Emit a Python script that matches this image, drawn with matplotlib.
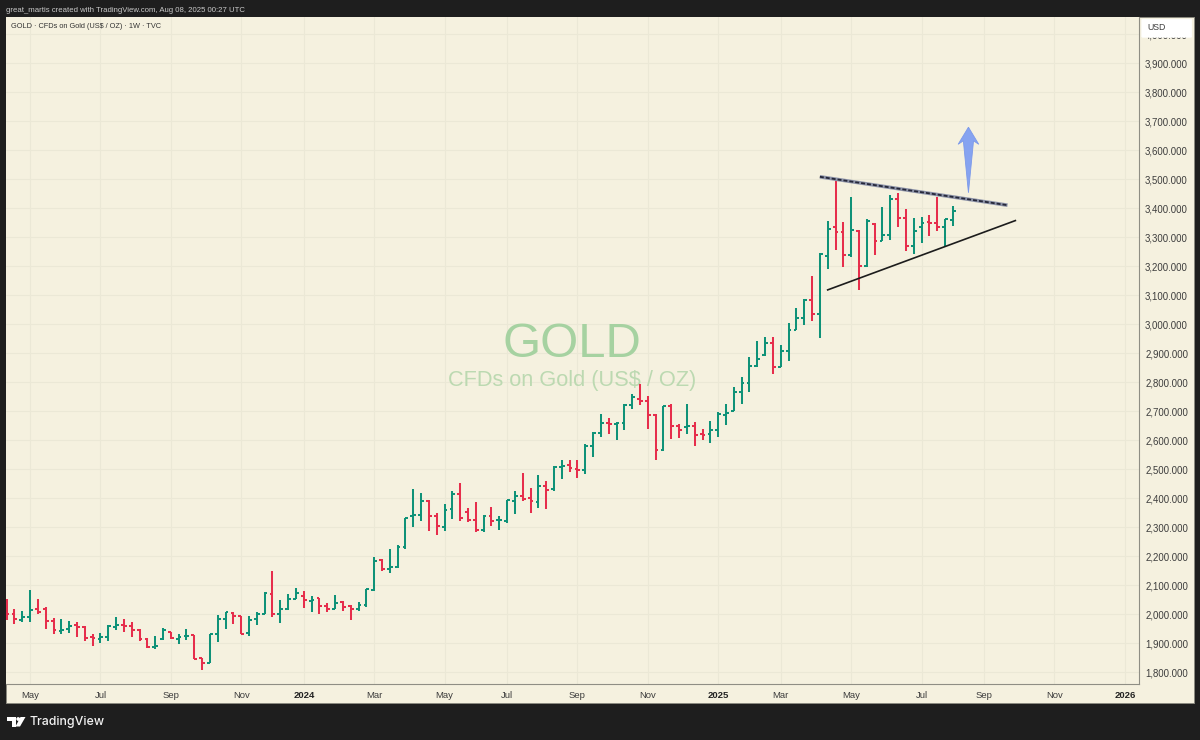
import matplotlib
matplotlib.use("Agg")
import matplotlib.pyplot as plt
from matplotlib.patches import Rectangle, Polygon, Circle, FancyBboxPatch

W, H = 1200, 740

# weekly bars
opens = [2040, 2003, 1980, 1992, 2019, 2017, 1978, 1942, 1948, 1963, 1956, 1923, 1914, 1923, 1956, 1963, 1961, 1946, 1916, 1888,
         1914, 1939, 1916, 1925, 1928, 1849, 1833, 1933, 1983, 2006, 1994, 1937, 1983, 2003, 2072, 2000, 2019, 2054, 2063, 2046,
         2055, 2029, 2019, 2042, 2029, 2017, 2031, 2084, 2186, 2155, 2163, 2231, 2339, 2344, 2391, 2341, 2302, 2362, 2414, 2354,
         2327, 2290, 2339, 2324, 2321, 2391, 2410, 2402, 2388, 2443, 2431, 2510, 2514, 2500, 2498, 2580, 2625, 2660, 2656, 2660,
         2723, 2743, 2737, 2687, 2566, 2720, 2650, 2645, 2648, 2622, 2621, 2636, 2689, 2703, 2768, 2797, 2857, 2896, 2935, 2854,
         2910, 2981, 3021, 3084, 3036, 3237, 3335, 3318, 3240, 3323, 3202, 3346, 3288, 3309, 3434, 3366, 3272, 3335, 3353, 3349,
         3335, 3360]
highs = [2052, 2017, 2011, 2084, 2052, 2024, 1987, 1985, 1976, 1973, 1959, 1934, 1937, 1965, 1990, 1983, 1975, 1948, 1919, 1925,
         1954, 1941, 1931, 1948, 1929, 1851, 1934, 1998, 2010, 2009, 1996, 1995, 2008, 2077, 2149, 2050, 2072, 2091, 2080, 2063,
         2057, 2040, 2068, 2046, 2034, 2044, 2088, 2198, 2190, 2225, 2238, 2333, 2433, 2419, 2393, 2348, 2381, 2424, 2453, 2366,
         2389, 2344, 2371, 2341, 2395, 2425, 2486, 2436, 2481, 2460, 2513, 2534, 2534, 2534, 2588, 2630, 2690, 2676, 2664, 2725,
         2761, 2796, 2752, 2691, 2720, 2724, 2657, 2727, 2665, 2638, 2666, 2698, 2725, 2784, 2817, 2887, 2943, 2956, 2957, 2930,
         3004, 3057, 3088, 3168, 3245, 3358, 3500, 3353, 3438, 3326, 3365, 3350, 3404, 3446, 3452, 3399, 3366, 3369, 3377, 3441,
         3364, 3410]
lows = [1980, 1968, 1973, 1975, 2000, 1951, 1934, 1931, 1936, 1923, 1908, 1891, 1900, 1910, 1945, 1939, 1923, 1908, 1884, 1880,
        1911, 1914, 1899, 1911, 1845, 1808, 1831, 1906, 1951, 1967, 1931, 1926, 1963, 2000, 1992, 1969, 2015, 2052, 2023, 2010,
        2000, 2007, 2017, 2013, 1982, 2013, 2026, 2080, 2148, 2144, 2161, 2225, 2300, 2321, 2288, 2274, 2288, 2329, 2322, 2318,
        2283, 2284, 2304, 2291, 2315, 2347, 2392, 2350, 2366, 2362, 2424, 2468, 2492, 2469, 2484, 2544, 2613, 2622, 2601, 2637,
        2707, 2723, 2641, 2534, 2564, 2604, 2609, 2622, 2579, 2603, 2591, 2611, 2652, 2702, 2727, 2768, 2852, 2890, 2828, 2852,
        2875, 2980, 2999, 3013, 2952, 3190, 3257, 3199, 3234, 3117, 3199, 3241, 3286, 3290, 3337, 3252, 3242, 3279, 3306, 3322,
        3267, 3341]
closes = [2003, 1983, 1992, 2015, 2008, 1978, 1946, 1946, 1960, 1957, 1919, 1919, 1923, 1960, 1962, 1960, 1946, 1914, 1888, 1891,
          1946, 1919, 1923, 1925, 1847, 1833, 1933, 1983, 2008, 1994, 1934, 1980, 2003, 2075, 2000, 2019, 2054, 2075, 2048, 2049,
          2029, 2019, 2040, 2026, 2019, 2034, 2086, 2184, 2155, 2163, 2233, 2331, 2344, 2391, 2339, 2304, 2359, 2416, 2333, 2327,
          2290, 2339, 2321, 2327, 2393, 2410, 2399, 2391, 2443, 2428, 2510, 2512, 2506, 2498, 2580, 2625, 2660, 2656, 2660, 2723,
          2749, 2737, 2687, 2566, 2717, 2650, 2636, 2648, 2620, 2620, 2636, 2691, 2696, 2768, 2797, 2857, 2880, 2935, 2854, 2909,
          2981, 3021, 3084, 3036, 3242, 3328, 3318, 3240, 3326, 3202, 3358, 3287, 3309, 3433, 3366, 3272, 3322, 3349, 3349, 3335,
          3362, 3392]

price_ticks = list(range(1800, 4100, 100))
date_ticks = [3, 12, 21, 30, 38, 47, 56, 64, 73, 82, 91, 99, 108, 117, 125, 134, 143]
date_labels = ["May", "Jul", "Sep", "Nov", "2024", "Mar", "May", "Jul", "Sep", "Nov", "2025", "Mar", "May", "Jul", "Sep", "Nov", "2026"]

# drawings on the chart, in bar number / price
upper_x, upper_y = [104, 128], [3509, 3411]
lower_x, lower_y = [105, 129], [3119, 3358]
arrow_x = [123.0, 124.32, 123.65, 123.0, 122.35, 121.68]
arrow_y = [3680, 3621, 3633, 3454, 3633, 3621]

DARK = "#1e1e1e"
CREAM = "#f5f1df"
GREEN = "#0f9278"
RED = "#e62e4c"
GRID = "#ebe8d6"
TEXT = "#3c3c3c"
plt.rcParams["font.family"] = ["Liberation Sans", "DejaVu Sans"]


def fx(px):
    return px / W


def fy(py):
    return 1 - py / H


fig = plt.figure(figsize=(12, 7.4), dpi=100, facecolor=DARK)

# whole panel with time and price scales
fig.patches.append(Rectangle((fx(6), fy(703)), fx(1188), 686 / H, transform=fig.transFigure,
                             facecolor=CREAM, edgecolor="#8b8a80", lw=0.7, zorder=-1))

ax = fig.add_axes([fx(6), fy(684), fx(1133.3), 667 / H])
ax.set_facecolor(CREAM)
ax.set_xlim(-0.08, 144.85)
ax.set_ylim(1760, 4060)
for name, sp in ax.spines.items():
    sp.set_visible(name in ("right", "bottom"))
    sp.set_color("#8f8e84")
    sp.set_linewidth(0.8)

ax.set_xticks(date_ticks)
ax.set_xticklabels(date_labels, fontsize=6.8, color=TEXT)
for lab in ax.get_xticklabels():
    if lab.get_text() in ("2024", "2025", "2026"):
        lab.set_fontweight("bold")
        lab.set_color("#222222")
ax.set_yticks(price_ticks)
ax.set_yticklabels(["{:,.3f}".format(p) for p in price_ticks], fontsize=6.9, color=TEXT)
ax.yaxis.tick_right()
ax.tick_params(axis="x", length=0, pad=4.8)
ax.tick_params(axis="y", length=0, pad=4.2)
ax.grid(True, color=GRID, lw=0.8)
ax.set_axisbelow(True)

# watermark
ax.text(0.4995, 0.5085, "GOLD", transform=ax.transAxes, ha="center", va="center", fontsize=35.3, color="#a6d2a1", zorder=1)
ax.text(0.4995, 0.4545, "CFDs on Gold (US$ / OZ)", transform=ax.transAxes, ha="center", va="center", fontsize=15.7,
        color="#bcd9b1", zorder=1)

# OHLC bars
idx = list(range(len(opens)))
colors = [GREEN if c >= o else RED for o, c in zip(opens, closes)]
ax.vlines(idx, lows, highs, colors=colors, lw=1.45, zorder=3)
ax.hlines(opens, [i - 0.36 for i in idx], idx, colors=colors, lw=1.45, zorder=3)
ax.hlines(closes, idx, [i + 0.36 for i in idx], colors=colors, lw=1.45, zorder=3)

# trend lines and arrow
ax.plot(upper_x, upper_y, color="#8d93a8", lw=2.6, solid_capstyle="butt", zorder=4)
ax.plot(upper_x, upper_y, color="#26283a", lw=1.3, ls=(0, (2.2, 1.1)), zorder=5)
ax.plot(lower_x, lower_y, color="#1c1c1c", lw=1.2, zorder=4)
ax.add_patch(Polygon(list(zip(arrow_x, arrow_y)), closed=True, facecolor="#86a3f0", edgecolor="#7b99ea", lw=0.6, zorder=5))

# header texts
fig.text(fx(6), fy(10.5), "great_martis created with TradingView.com, Aug 08, 2025 00:27 UTC", fontsize=5.55,
         color="#c9c9c9", va="center")
fig.text(fx(11), fy(27), "GOLD \u00b7 CFDs on Gold (US$ / OZ) \u00b7 1W \u00b7 TVC", fontsize=5.3, color="#333333", va="center")

# USD box over the top of the scale
fig.patches.append(FancyBboxPatch((fx(1143), fy(36.5)), fx(47.5), 16.5 / H, boxstyle="round,pad=0.001", transform=fig.transFigure,
                                  facecolor="white", edgecolor="white", lw=0.5, zorder=5))
box = fig.text(fx(1147), fy(27), "USD", fontsize=6.3, color=TEXT, va="center", zorder=6)

# TradingView logo
logo = fig.add_axes([0, 0, 1, 1], facecolor="none")
logo.set_xlim(0, W)
logo.set_ylim(H, 0)
logo.axis("off")
logo.add_patch(Polygon([(7, 717), (16, 717), (16, 726.5), (11.5, 726.5), (11.5, 721), (7, 721)], facecolor="white", edgecolor="none"))
logo.add_patch(Circle((18.2, 719), 1.9, facecolor="white", edgecolor="none"))
logo.add_patch(Polygon([(20.5, 717), (25.5, 717), (20, 726.5), (15.5, 726.5)], facecolor="white", edgecolor="none"))
logo.text(30, 722, "TradingView", fontsize=8.9, color="#f2f2f2", va="center", family=["Inter", "DejaVu Sans"], fontweight="medium")

fig.savefig("out.png", dpi=100, facecolor=DARK)
